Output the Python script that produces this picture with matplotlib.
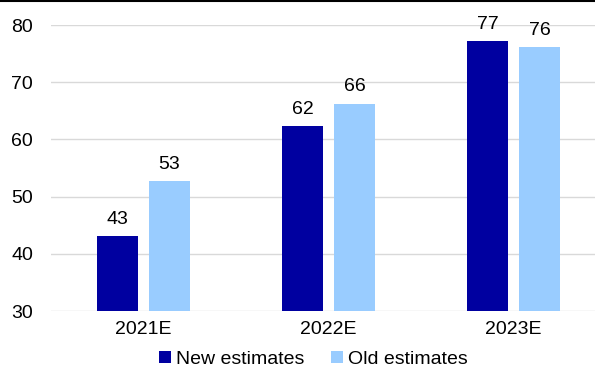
import matplotlib.pyplot as plt
import numpy as np

plt.rcParams['font.family'] = ['Liberation Sans', 'DejaVu Sans']

years = ['2021E', '2022E', '2023E']
new_est = [43.1, 62.3, 77.2]
old_est = [52.7, 66.2, 76.1]
new_lbl = ['43', '62', '77']
old_lbl = ['53', '66', '76']

navy = '#0000A0'
light = '#99CCFF'

fig = plt.figure(figsize=(5.95, 3.69), dpi=100)
ax = fig.add_axes([0.0857, 0.157, 0.9328, 0.775])

x = np.arange(len(years))
w = 0.222
off = 0.1405
b1 = ax.bar(x - off, [v - 30 for v in new_est], w, bottom=30, color=navy, label='New estimates', zorder=2)
b2 = ax.bar(x + off, [v - 30 for v in old_est], w, bottom=30, color=light, label='Old estimates', zorder=2)

for xi, v, t in zip(x, new_est, new_lbl):
    ax.text(xi - off, v + 1.5, t, ha='center', va='bottom', fontsize=14, clip_on=False)
for xi, v, t in zip(x, old_est, old_lbl):
    ax.text(xi + off, v + 1.5, t, ha='center', va='bottom', fontsize=14, clip_on=False)

ax.set_xlim(-0.5, 2.5)
ax.set_ylim(30, 80)
ax.set_yticks([30, 40, 50, 60, 70, 80])
ax.set_xticks(x)
ax.set_xticklabels(years)
ax.tick_params(axis='both', length=0, labelsize=14, pad=7)
ax.tick_params(axis='y', pad=13)
ax.yaxis.grid(True, color='#D9D9D9', linewidth=1)
ax.set_axisbelow(True)
for s in ax.spines.values():
    s.set_visible(False)

fig.legend(handles=[b1, b2], loc='center', bbox_to_anchor=(0.527, 0.026),
           ncol=2, frameon=False, fontsize=14, handlelength=0.6, handleheight=0.6,
           handletextpad=0.25, columnspacing=1.4, borderpad=0)

fig.add_artist(plt.Line2D([0, 1], [0.998, 0.998], color='black', linewidth=1.5, transform=fig.transFigure))

fig.savefig('out.png', dpi=100)
